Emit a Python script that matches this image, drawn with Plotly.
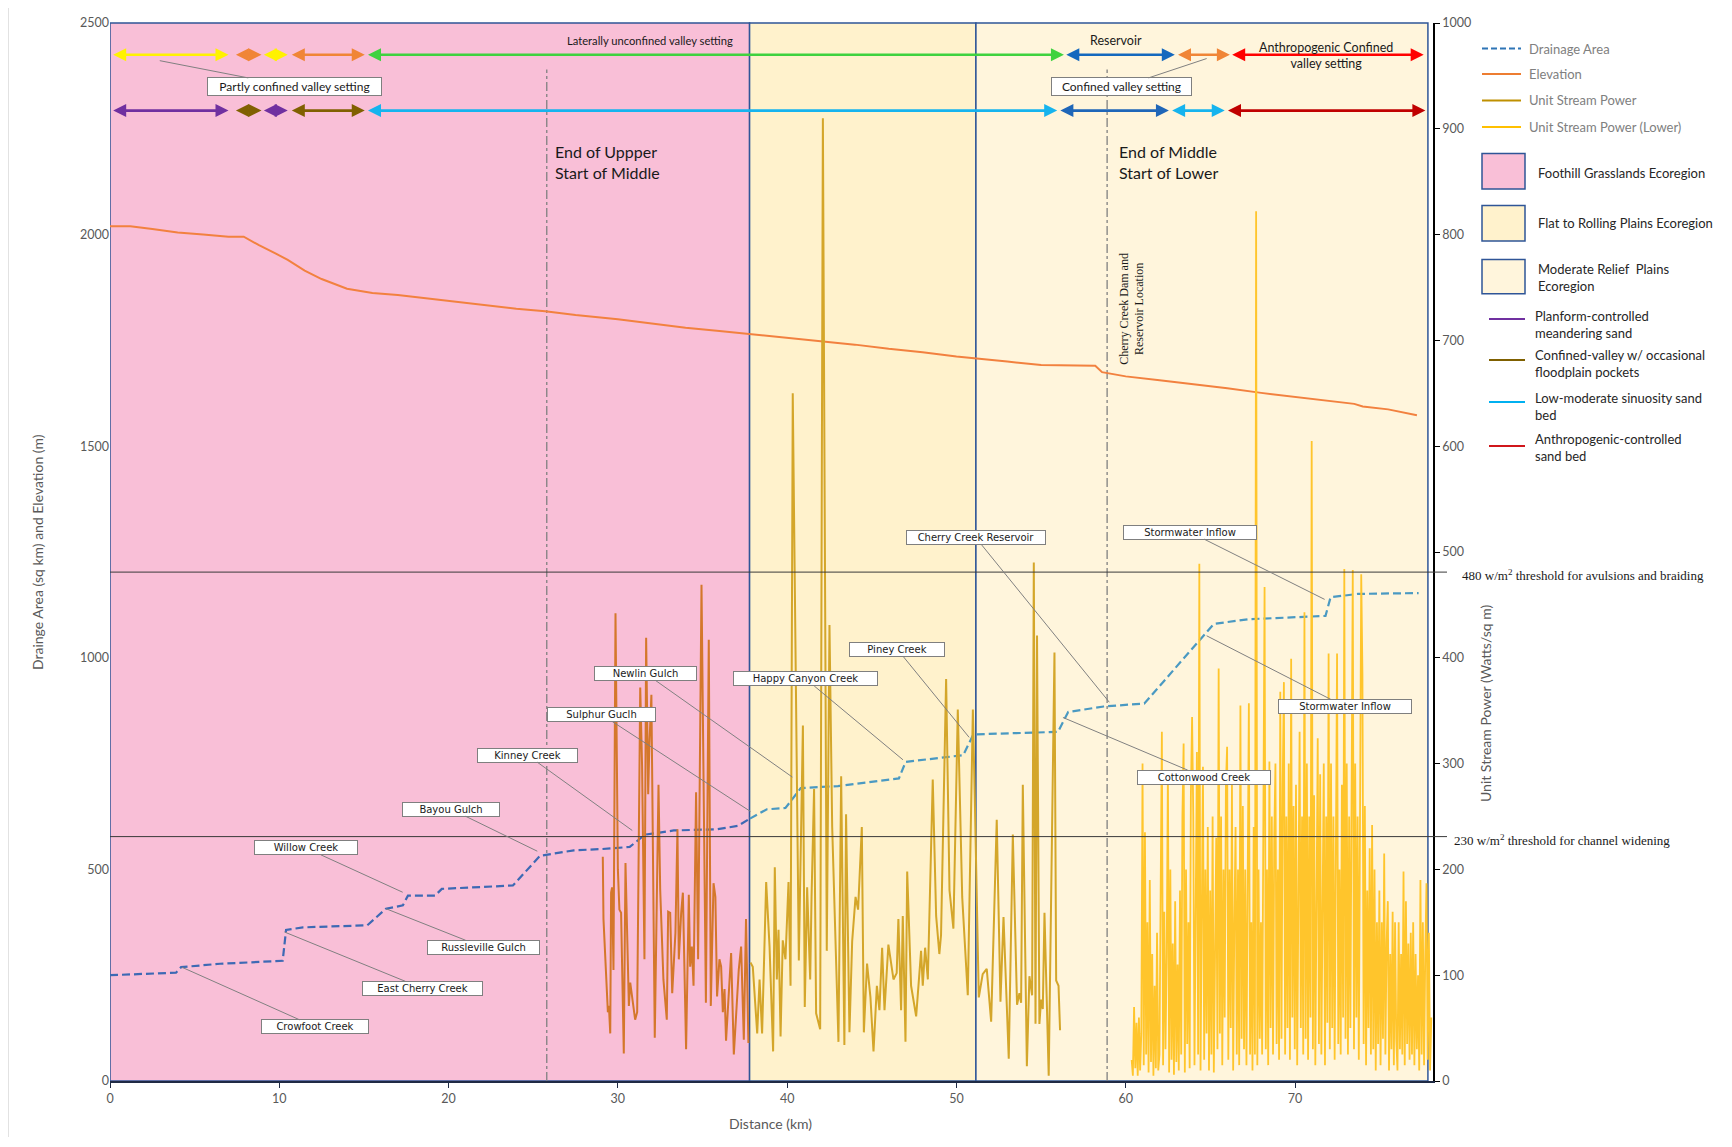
import plotly.graph_objects as go
import numpy as np

# ---------------- DATA ----------------
eco_names = ["Foothill Grasslands Ecoregion", "Flat to Rolling Plains Ecoregion",
             "Moderate Relief  Plains<br>Ecoregion"]
eco_start = [0.0, 37.78, 51.15]
eco_end = [37.78, 51.15, 77.85]

elev_x = [0, 1.2, 2.5, 4, 5.5, 7, 7.9, 8.8, 9.8, 10.5, 11.5, 12.5, 14, 15.5, 17, 18.5, 20, 22, 24,
          25.7, 27.5, 30, 32, 34, 36, 37.8, 40, 42, 44, 46, 48, 50, 51.1, 53, 55, 57, 58.2, 58.6,
          60, 62, 64, 66, 68, 70, 72, 73.5, 74, 75.5, 77.2]
elev_y = [2020, 2020, 2013, 2005, 2000, 1995, 1995, 1975, 1955, 1940, 1915, 1895, 1872, 1862, 1857,
          1850, 1842, 1834, 1825, 1819, 1810, 1800, 1790, 1780, 1772, 1765, 1757, 1748, 1740, 1730,
          1722, 1712, 1708, 1700, 1692, 1690, 1690, 1675, 1665, 1656, 1647, 1637, 1626, 1616, 1606,
          1600, 1594, 1587, 1573]

da_x = [0, 3.9, 4.2, 6.5, 10.2, 10.4, 11.4, 15.2, 16.3, 17.3, 17.6, 19.2, 19.6, 23.8, 25.4, 27.4,
        29.0, 30.7, 31.6, 33.3, 35.9, 37.1, 37.8, 38.8, 39.9, 40.8, 43.0, 46.6, 47.0, 49.6, 50.4,
        51.0, 56.0, 56.6, 58.7, 61.1, 65.2, 67.2, 71.8, 72.1, 73.7, 77.3]
da_y = [250, 256, 269, 277, 284, 357, 363, 368, 407, 415, 438, 438, 454, 462, 532, 545, 548, 553,
        582, 592, 595, 603, 620, 642, 645, 692, 697, 715, 754, 765, 770, 819, 825, 872, 885, 892,
        1080, 1091, 1099, 1143, 1151, 1153]

# Unit stream power (upper reach, within foothill ecoregion)
sp_up_x = [29.11, 29.15, 29.41, 29.47, 29.55, 29.60, 29.66, 29.74, 29.86, 30.00, 30.09, 30.19, 30.35,
           30.45, 30.65, 30.73, 31.02, 31.14, 31.32, 31.43, 31.57, 31.67, 31.79, 31.86, 31.98, 32.06,
           32.18, 32.40, 32.50, 32.69, 32.89, 32.97, 33.09, 33.21, 33.40, 33.52, 33.60, 33.74, 33.84,
           34.03, 34.19, 34.27, 34.37, 34.47, 34.62, 34.74, 34.94, 35.20, 35.37, 35.49, 35.65, 35.76,
           35.86, 36.00, 36.10, 36.20, 36.30, 36.39, 36.69, 36.85, 36.99, 37.14, 37.28, 37.44, 37.57,
           37.71]
sp_up_y = [212, 153, 65, 71, 45, 178, 183, 105, 442, 200, 162, 159, 26, 206, 71, 93, 58, 65, 372,
           298, 115, 419, 271, 317, 365, 254, 41, 280, 181, 96, 58, 160, 159, 83, 140, 238, 115,
           159, 178, 30, 176, 108, 127, 90, 273, 115, 469, 74, 417, 71, 187, 174, 80, 115, 108, 65,
           87, 38, 121, 25, 68, 105, 127, 39, 153, 36]

# Unit stream power (middle reach)
sp_mid_x = [37.83, 37.97, 38.23, 38.37, 38.52, 38.76, 38.96, 39.17, 39.27, 39.39, 39.49, 39.61, 39.74,
            39.90, 40.08, 40.20, 40.33, 40.69, 40.93, 41.04, 41.18, 41.36, 41.44, 41.59, 41.71, 41.95,
            42.11, 42.34, 42.50, 42.66, 43.03, 43.19, 43.38, 43.48, 43.68, 43.84, 44.04, 44.19, 44.41,
            44.53, 44.72, 44.92, 45.10, 45.30, 45.45, 45.61, 45.75, 45.98, 46.28, 46.47, 46.57, 46.73,
            46.83, 46.99, 47.09, 47.32, 47.62, 47.91, 48.01, 48.15, 48.31, 48.60, 48.80, 48.99, 49.09,
            49.39, 49.59, 49.82, 50.08, 50.34, 50.67, 50.97, 51.08, 51.32, 51.55, 51.79, 52.05, 52.38,
            52.60, 52.78, 53.09, 53.33, 53.58, 53.72, 53.82, 53.92, 54.16, 54.31, 54.47, 54.57, 54.67,
            54.76, 54.90, 55.00, 55.10, 55.20, 55.45, 55.79, 55.89, 56.03, 56.12]
sp_mid_y = [112, 108, 45, 96, 45, 188, 127, 28, 202, 96, 143, 42, 133, 115, 188, 90, 650, 114, 336,
            70, 183, 96, 174, 276, 64, 49, 910, 123, 431, 240, 37, 288, 34, 252, 46, 132, 174, 162,
            240, 46, 111, 79, 28, 90, 67, 126, 67, 129, 96, 102, 153, 67, 156, 37, 198, 90, 61, 123,
            90, 126, 96, 285, 156, 120, 138, 380, 180, 144, 351, 174, 81, 351, 270, 79, 101, 106, 56,
            247, 75, 155, 21, 233, 72, 83, 74, 280, 14, 99, 81, 490, 54, 421, 54, 77, 68, 159, 5,
            405, 95, 90, 48]

# Unit stream power (lower reach), stations from 60.35 km to 78.05 km
sp_low_start, sp_low_end = 60.35, 78.05
sp_low_y = [
    20, 5, 70, 12, 55, 5, 60, 10, 45,
    300, 15, 235, 25, 150, 8, 190, 18, 120, 5, 90, 12, 140, 10,
    25, 180, 330, 15, 160, 30, 120, 294, 8, 200, 20, 130, 6, 170,
    18, 110, 10, 180, 25, 250, 319, 8, 200, 35, 150, 12, 270, 344,
    250, 15, 180, 311, 25, 489, 10, 150, 297, 20, 200, 45, 240, 10,
    180, 25, 250, 8, 160, 230, 30, 390, 45, 250, 15, 200, 60, 280,
    316, 20, 200, 50, 280, 10, 150, 240, 25, 200, 15, 355, 40, 260,
    30, 200, 15, 260, 357, 25, 150, 10, 240, 25, 822, 15, 200, 40,
    150, 25, 250, 467, 30, 200, 15, 302, 50, 250, 25, 230, 300, 35,
    200, 20, 368, 40, 280, 377, 25, 250, 50, 300, 20, 399, 60, 260,
    30, 280, 15, 200, 330, 50, 250, 25, 443, 40, 300, 20, 250, 60,
    605, 30, 270, 15, 200, 324, 35, 290, 25, 220, 300, 15, 250, 55,
    404, 30, 300, 50, 250, 20, 280, 404, 35, 200, 25, 280, 60, 484,
    40, 300, 25, 250, 50, 220, 483, 30, 300, 60, 250, 20, 300, 479,
    385, 35, 260, 15, 180, 50, 220, 25, 242, 30, 200, 10, 150, 35,
    180, 15, 150, 40, 215, 25, 130, 170, 10, 120, 30, 160, 15, 150,
    40, 10, 150, 30, 120, 25, 198, 15, 170, 35, 130, 20, 140, 25,
    150, 15, 120, 30, 100, 10, 190, 25, 150, 15, 120, 187, 20, 140,
    10, 60]

# Valley setting (top row) and channel type (bottom row) segments, km
top_seg_start = [0.1, 7.35, 9.0, 10.65, 15.15, 56.4, 63.0, 66.2]
top_seg_end = [7.0, 8.95, 10.5, 15.05, 56.35, 62.9, 66.15, 77.6]
top_seg_type = ["partly", "confined", "partly", "confined", "unconfined", "reservoir", "confined", "anthro"]
bot_seg_start = [0.1, 7.35, 9.0, 10.65, 15.15, 56.05, 62.65, 65.95]
bot_seg_end = [7.0, 8.95, 10.5, 15.05, 55.95, 62.55, 65.85, 77.7]
bot_seg_type = ["planform", "confvalley", "planform", "confvalley", "lowmod", "reservoir", "lowmod", "anthro"]

thresholds = [480, 230]
threshold_labels = ["480 w/m<sup>2</sup> threshold for avulsions and braiding",
                    "230 w/m<sup>2</sup> threshold for channel widening"]

divider_x = [25.8, 58.9]
divider_labels = ["End of Uppper<br>Start of Middle", "End of Middle<br>Start of Lower"]

trib_names = ["Crowfoot Creek", "East Cherry Creek", "Russleville Gulch", "Willow Creek", "Bayou Gulch",
              "Kinney Creek", "Sulphur Guclh", "Newlin Gulch", "Happy Canyon Creek", "Piney Creek",
              "Cherry Creek Reservoir", "Cottonwood Creek", "Stormwater Inflow", "Stormwater Inflow"]
trib_km = [4.24, 10.31, 16.31, 17.29, 25.24, 30.85, 37.83, 40.31, 46.84, 50.75, 59.03, 56.29, 71.75, 64.78]
trib_da = [269, 352, 407, 446, 543, 592, 637, 718, 759, 812, 895, 859, 1138, 1052]

# ---------------- STYLE / LAYOUT ----------------
# the page body has an 8px margin; the figure is sized so the plot lands where the reference has it
OFF = 8
ML, MT, PW, PH = 102, 15, 1323, 1058
W, H = 1714, 1129
MR = W - ML - PW
MB = H - MT - PH


def PX(fx):  # screen pixel -> paper x
    return (fx - OFF - ML) / PW


def PY(fy):  # screen pixel -> paper y
    return (OFF + MT + PH - fy) / PH


eco_fill = ["#F9BFD7", "#FFF2CC", "#FFF5DC"]
border = "#2F5597"
top_colors = {"partly": "#FFF200", "confined": "#F08536", "unconfined": "#3FD23F",
              "reservoir": "#1468BE", "anthro": "#FF0000"}
bot_colors = {"planform": "#7030A0", "confvalley": "#806000", "lowmod": "#16B4EE",
              "reservoir": "#1F66B8", "anthro": "#C00000"}
TOP_ROW_Y, BOT_ROW_Y = 2425, 2293

# callout boxes: (box km, box value, box width px)
trib_box = [(12.13, 128, 104), (18.46, 219, 117), (22.05, 316, 109), (11.55, 551, 100),
            (20.16, 642, 94), (24.66, 770, 97), (29.03, 866, 105), (31.64, 963, 99),
            (41.10, 950, 141), (46.51, 1020, 92), (51.14, 1284, 136), (64.64, 718, 130),
            (63.80, 1297, 130), (72.93, 885, 130)]

fig = go.Figure()

shapes = []
annotations = []

# ecoregion bands
for s, e, c in zip(eco_start, eco_end, eco_fill):
    shapes.append(dict(type="rect", xref="x", yref="paper", x0=s, x1=e, y0=0, y1=1,
                       fillcolor=c, line=dict(color=border, width=1.5), layer="below"))

# dividers
for dx in divider_x:
    shapes.append(dict(type="line", xref="x", yref="y", x0=dx, x1=dx, y0=0, y1=2390,
                       line=dict(color="#808080", width=1.3, dash="dashdot"), layer="below"))

# thresholds
for t in thresholds:
    shapes.append(dict(type="line", xref="paper", yref="y2", x0=0, x1=PX(1447), y0=t + 1, y1=t + 1,
                       line=dict(color="#3A3A3A", width=1), layer="above"))

# chart border on left
shapes.append(dict(type="line", xref="paper", yref="paper", x0=PX(8), x1=PX(8), y0=PY(2), y1=PY(1140),
                   line=dict(color="#D9D9D9", width=1.5)))

# elevation
fig.add_trace(go.Scatter(x=elev_x, y=elev_y, mode="lines", line=dict(color="#F2813F", width=2),
                         yaxis="y"))

# drainage area (two tints)
split = da_x.index(37.8)
fig.add_trace(go.Scatter(x=da_x[:split + 1], y=da_y[:split + 1], mode="lines",
                         line=dict(color="#3D69B4", width=2.2, dash="8px,4px"), yaxis="y"))
fig.add_trace(go.Scatter(x=da_x[split:], y=da_y[split:], mode="lines",
                         line=dict(color="#4A99C2", width=2.2, dash="8px,4px"), yaxis="y"))

# stream power
fig.add_trace(go.Scatter(x=sp_up_x, y=sp_up_y, mode="lines", line=dict(color="#D4772B", width=2),
                         yaxis="y2"))
fig.add_trace(go.Scatter(x=sp_mid_x, y=sp_mid_y, mode="lines", line=dict(color="#D4A62A", width=2),
                         yaxis="y2"))
sp_low_x = np.linspace(sp_low_start, sp_low_end, len(sp_low_y))
fig.add_trace(go.Scatter(x=sp_low_x, y=sp_low_y, mode="lines", line=dict(color="#FFC52C", width=1.8),
                         yaxis="y2"))

# double-headed arrows
for starts, ends, types, cmap, yy in [(top_seg_start, top_seg_end, top_seg_type, top_colors, TOP_ROW_Y),
                                      (bot_seg_start, bot_seg_end, bot_seg_type, bot_colors, BOT_ROW_Y)]:
    for s, e, t in zip(starts, ends, types):
        c = cmap[t]
        annotations.append(dict(x=e, y=yy, ax=s, ay=yy, xref="x", yref="y", axref="x", ayref="y",
                                text="", showarrow=True, arrowside="end+start",
                                arrowhead=2, startarrowhead=2, arrowsize=1.0, startarrowsize=1.0,
                                arrowwidth=2.6, arrowcolor=c, standoff=0, startstandoff=0))

# callouts
for name, tx, ty, (bx, by, bw) in zip(trib_names, trib_km, trib_da, trib_box):
    annotations.append(dict(x=tx, y=ty, xref="x", yref="y", ax=bx, ay=by, axref="x", ayref="y",
                            text=name, showarrow=True, arrowhead=0, arrowwidth=1, arrowcolor="#808080",
                            bgcolor="white", bordercolor="#7F7F7F", borderwidth=1, borderpad=1,
                            width=bw, font=dict(family="DejaVu Sans", size=10, color="#1A1A1A")))

# valley setting callouts
for txt, tx, ty, bx, by, bw in [("Partly confined valley setting", 2.94, 2411, 10.89, 2349, 171),
                                ("Confined valley setting", 64.78, 2416, 59.75, 2349, 137)]:
    annotations.append(dict(x=tx, y=ty, xref="x", yref="y", ax=bx, ay=by, axref="x", ayref="y",
                            text=txt, showarrow=True, arrowhead=0, arrowwidth=1, arrowcolor="#808080",
                            bgcolor="white", bordercolor="#7F7F7F", borderwidth=1, borderpad=1,
                            width=bw, font=dict(family="Lato", size=12, color="#1A1A1A")))

# plain texts
for txt, tx, ty, fs in [("Laterally unconfined valley setting", 31.9, 2458, 11.2), ("Reservoir", 59.4, 2458, 12.5),
                        ("Anthropogenic Confined<br>valley setting", 71.8, 2423, 12.5)]:
    annotations.append(dict(x=tx, y=ty, xref="x", yref="y", text=txt, showarrow=False,
                            xanchor="center", yanchor="middle",
                            font=dict(family="Lato", size=fs, color="#1A1A1A")))

for lab, lx in zip(divider_labels, [26.16, 59.5]):
    annotations.append(dict(x=lx, y=2172, xref="x", yref="y", text=lab, showarrow=False, xanchor="left",
                            yanchor="middle", align="left",
                            font=dict(family="Lato", size=16, color="#1A1A1A")))

annotations.append(dict(x=60.35, y=1824, xref="x", yref="y", text="Cherry Creek Dam and<br>Reservoir Location",
                        showarrow=False, textangle=-90, xanchor="center", yanchor="middle",
                        font=dict(family="Liberation Serif", size=12, color="#1A1A1A")))

for t, lab, lx in zip(thresholds, threshold_labels, [1460, 1452]):
    annotations.append(dict(x=PX(lx), y=t, xref="paper", yref="y2", text=lab, showarrow=False,
                            xanchor="left", yanchor="middle", yshift=-2,
                            font=dict(family="Liberation Serif", size=13, color="#1A1A1A")))

# axis titles
annotations.append(dict(x=PX(37), y=0.5, xref="paper", yref="paper", text="Drainge Area (sq km) and Elevation (m)",
                        showarrow=False, textangle=-90, xanchor="center", yanchor="middle",
                        font=dict(family="Lato", size=14, color="#595959")))
annotations.append(dict(x=PX(1485), y=PY(704), xref="paper", yref="paper", text="Unit Stream Power (Watts/sq m)",
                        showarrow=False, textangle=-90, xanchor="center", yanchor="middle",
                        font=dict(family="Lato", size=14, color="#595959")))
annotations.append(dict(x=PX(770), y=PY(1123), xref="paper", yref="paper", text="Distance (km)",
                        showarrow=False, xanchor="center", yanchor="middle",
                        font=dict(family="Lato", size=14, color="#595959")))

# custom legend
leg_lines = [("Drainage Area", "#2E75B6", "6px,3px", 48.6), ("Elevation", "#ED7D31", "solid", 74),
             ("Unit Stream Power", "#BF9000", "solid", 100.5),
             ("Unit Stream Power (Lower)", "#FFC000", "solid", 127)]
for lab, c, d, fy in leg_lines:
    shapes.append(dict(type="line", xref="paper", yref="paper", x0=PX(1482), x1=PX(1521), y0=PY(fy), y1=PY(fy),
                       line=dict(color=c, width=2, dash=d)))
    annotations.append(dict(x=PX(1527), y=PY(fy), xref="paper", yref="paper", text=lab, showarrow=False,
                            xanchor="left", yanchor="middle",
                            font=dict(family="Lato", size=13, color="#808080")))

leg_boxes = [(153.5, 189, 173), (205.5, 241, 223), (259.6, 293.8, 277)]
for (y0, y1, ty), c, lab in zip(leg_boxes, eco_fill, eco_names):
    shapes.append(dict(type="rect", xref="paper", yref="paper", x0=PX(1482), x1=PX(1525), y0=PY(y1), y1=PY(y0),
                       fillcolor=c, line=dict(color=border, width=1.5)))
    annotations.append(dict(x=PX(1536), y=PY(ty), xref="paper", yref="paper", text=lab, showarrow=False,
                            xanchor="left", yanchor="middle", align="left",
                            font=dict(family="Lato", size=13, color="#262626")))

leg_types = [("Planform-controlled<br>meandering sand", "#7030A0", 319, 325),
             ("Confined-valley w/ occasional<br>floodplain pockets", "#7F6000", 360, 364),
             ("Low-moderate sinuosity sand<br>bed", "#00B0F0", 402, 406),
             ("Anthropogenic-controlled<br>sand bed", "#D0161B", 446, 448)]
for lab, c, ly, ty in leg_types:
    shapes.append(dict(type="line", xref="paper", yref="paper", x0=PX(1489), x1=PX(1525), y0=PY(ly), y1=PY(ly),
                       line=dict(color=c, width=2)))
    annotations.append(dict(x=PX(1533), y=PY(ty), xref="paper", yref="paper", text=lab, showarrow=False,
                            xanchor="left", yanchor="middle", align="left",
                            font=dict(family="Lato", size=13, color="#262626")))

fig.update_traces(showlegend=False, hoverinfo="skip")

fig.update_layout(
    width=W, height=H,
    margin=dict(l=ML, r=MR, t=MT, b=MB),
    paper_bgcolor="white", plot_bgcolor="white",
    showlegend=False,
    shapes=shapes, annotations=annotations,
    font=dict(family="Lato", color="#595959"),
    xaxis=dict(range=[0, 78.15], dtick=10, tick0=0, showgrid=False, zeroline=False, showline=True,
               linecolor="#1F2A44", linewidth=1.5, ticks="outside", ticklen=5, tickcolor="#1F2A44",
               tickfont=dict(family="Lato", size=12.5, color="#595959"), automargin=False),
    yaxis=dict(range=[0, 2500], dtick=500, showgrid=False, zeroline=False, showline=False, ticks="",
               tickfont=dict(family="Lato", size=12.5, color="#595959"), automargin=False),
    yaxis2=dict(range=[0, 1000], dtick=100, overlaying="y", side="right", showgrid=False, zeroline=False,
                showline=True, linecolor="black", linewidth=1.5, ticks="outside", ticklen=5, tickcolor="black",
                tickfont=dict(family="Lato", size=12.5, color="#595959"), automargin=False),
)

fig.write_html("out.html")
